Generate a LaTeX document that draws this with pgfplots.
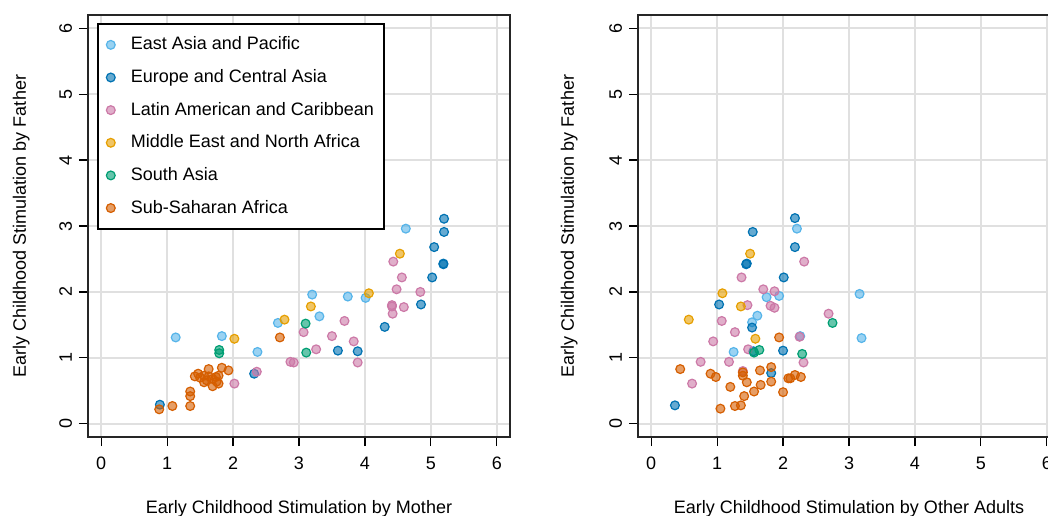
\documentclass[border=0pt]{standalone}
\usepackage{pgfplots}
\pgfplotsset{compat=1.18}
\usepackage{fontspec}
\setmainfont{Liberation Sans}

\definecolor{eap}{HTML}{56B4E9}
\definecolor{eca}{HTML}{0072B2}
\definecolor{lac}{HTML}{CC79A7}
\definecolor{mena}{HTML}{E69F00}
\definecolor{sas}{HTML}{009E73}
\definecolor{ssa}{HTML}{D55E00}

\newcommand{\lbl}{\fontsize{9}{11}\selectfont}

\pgfplotsset{
  panel/.style={
    scale only axis, width=211pt, height=211pt,
    xmin=-0.2, xmax=6.2, ymin=-0.2, ymax=6.2,
    enlargelimits=false,
    xtick={0,...,6}, ytick={0,...,6},
    tick align=outside, major tick length=4.5pt, tick pos=left,
    tick style={black, line width=0.6pt},
    grid=major, grid style={black!12, line width=1pt},
    axis line style={black!85, line width=0.9pt},
    /pgf/number format/assume math mode=true,
    tick label style={font=\lbl},
    xticklabel style={yshift=-2pt},
    yticklabel style={rotate=90, anchor=south},
    label style={font=\lbl},
    xlabel style={at={(axis description cs:0.5,-0.170)}, anchor=center},
    ylabel style={at={(axis description cs:-0.158,0.5)}, anchor=center},
  },
  dot/.style={only marks, mark=*, mark size=2.2pt,
    mark options={draw=#1, fill=#1, fill opacity=0.6, line width=0.6pt}},
}

\begin{document}
\begin{tikzpicture}
\path[use as bounding box] (0pt,0pt) rectangle (524pt,257.5pt);

% left panel: mother
\begin{axis}[panel, at={(44pt,39pt)}, anchor=south west,
  xlabel={Early Childhood Stimulation by Mother},
  ylabel={Early Childhood Stimulation by Father},
  legend style={at={(axis description cs:0.0213,0.981)}, anchor=north west,
    draw=black, line width=0.8pt, font=\lbl, fill=white,
    row sep=4.3pt, inner xsep=3pt, inner ysep=4.5pt, cells={anchor=west}},
  legend image code/.code={\path[draw=none] (0pt,0pt) -- (11.5pt,0pt); \draw[#1] plot coordinates {(3.5pt,0pt)};},
]
\addplot[dot=eap] coordinates {(1.13,1.31) (1.83,1.33) (2.68,1.53) (2.37,1.09) (4.62,2.96) (4.01,1.91) (3.74,1.93) (3.20,1.96) (3.31,1.63)};
\addplot[dot=eca] coordinates {(5.20,3.11) (5.20,2.91) (5.05,2.68) (5.19,2.42) (5.19,2.43) (5.02,2.22) (4.85,1.81) (4.30,1.47) (3.59,1.11) (3.89,1.10) (2.32,0.76) (0.89,0.29)};
\addplot[dot=lac] coordinates {(2.87,0.94) (2.92,0.93) (2.36,0.79) (2.02,0.61) (4.43,2.46) (4.56,2.22) (4.48,2.04) (4.84,2.00) (3.07,1.39) (3.69,1.56) (3.50,1.33) (3.26,1.13) (3.83,1.25) (3.89,0.93) (4.41,1.80) (4.41,1.78) (4.42,1.67) (4.59,1.77)};
\addplot[dot=mena] coordinates {(2.02,1.29) (2.78,1.58) (4.53,2.58) (4.06,1.98) (3.18,1.78)};
\addplot[dot=sas] coordinates {(1.79,1.12) (1.79,1.07) (3.10,1.52) (3.11,1.08)};
\addplot[dot=ssa] coordinates {(2.71,1.31) (0.88,0.22) (1.08,0.27) (1.35,0.27) (1.35,0.42) (1.35,0.49) (1.42,0.72) (1.47,0.76) (1.56,0.73) (1.56,0.63) (1.63,0.83) (1.63,0.72) (1.69,0.68) (1.69,0.57) (1.75,0.64) (1.78,0.61) (1.78,0.73) (1.83,0.85) (1.93,0.81) (1.74,0.71) (1.50,0.70) (1.60,0.66)};
\legend{East Asia and Pacific, Europe and Central Asia, Latin American and Caribbean, Middle East and North Africa, South Asia, Sub-Saharan Africa}
\end{axis}

% right panel: other adults
\begin{axis}[panel, at={(319pt,39pt)}, anchor=south west,
  xlabel={Early Childhood Stimulation by Other Adults},
  ylabel={Early Childhood Stimulation by Father},
  ylabel style={at={(axis description cs:-0.163,0.5)}},
]
\addplot[dot=eap] coordinates {(2.21,2.96) (1.75,1.92) (1.94,1.94) (1.61,1.64) (1.53,1.54) (2.26,1.33) (1.25,1.09) (3.16,1.97) (3.19,1.30)};
\addplot[dot=eca] coordinates {(2.18,3.12) (1.54,2.91) (2.18,2.68) (1.44,2.42) (1.45,2.43) (2.01,2.22) (1.03,1.81) (1.53,1.46) (2.00,1.11) (1.55,1.10) (1.82,0.77) (0.36,0.28)};
\addplot[dot=lac] coordinates {(2.32,2.46) (1.37,2.22) (1.70,2.04) (1.87,2.01) (1.46,1.80) (1.81,1.79) (1.87,1.76) (1.07,1.56) (1.27,1.39) (2.25,1.32) (0.94,1.25) (1.47,1.13) (2.31,0.93) (0.75,0.94) (1.18,0.94) (0.62,0.61) (1.39,0.80) (2.69,1.67)};
\addplot[dot=mena] coordinates {(1.50,2.58) (1.08,1.98) (1.36,1.78) (0.57,1.58) (1.58,1.29)};
\addplot[dot=sas] coordinates {(1.56,1.08) (1.64,1.12) (2.29,1.06) (2.75,1.53)};
\addplot[dot=ssa] coordinates {(1.94,1.31) (0.44,0.83) (0.90,0.76) (0.98,0.71) (1.39,0.78) (1.39,0.73) (1.65,0.81) (1.82,0.86) (1.82,0.64) (1.45,0.63) (1.66,0.59) (2.08,0.69) (2.11,0.69) (2.18,0.74) (2.27,0.71) (1.20,0.56) (1.56,0.49) (1.41,0.42) (2.00,0.48) (1.05,0.23) (1.27,0.27) (1.36,0.28)};
\end{axis}
\end{tikzpicture}
\end{document}
